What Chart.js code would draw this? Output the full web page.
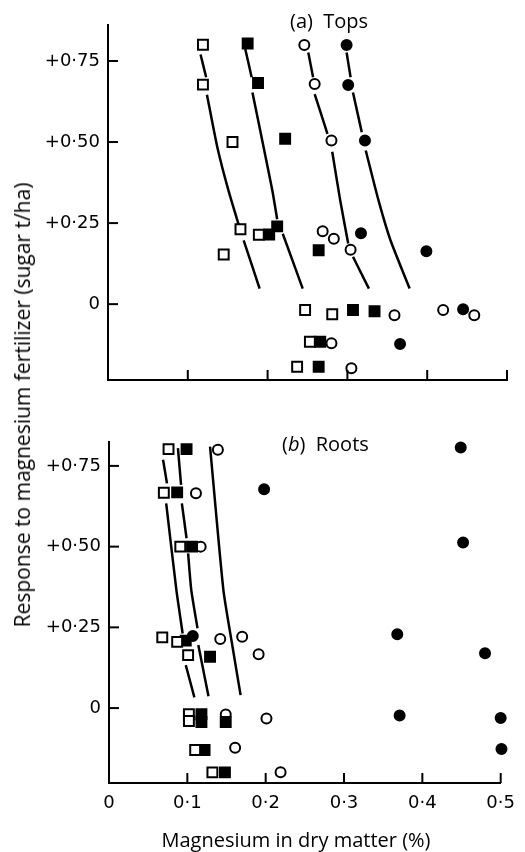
<!DOCTYPE html>
<html>
<head>
<meta charset="utf-8">
<script src="https://cdn.jsdelivr.net/npm/chart.js@4.4.0/dist/chart.umd.min.js"></script>
<style>
  body { margin: 0; background: #fff; width: 525px; height: 852px; position: relative; overflow: hidden; }
  canvas { position: absolute; left: 0; }
  .axtitle { position: absolute; font-family: "Open Sans", sans-serif; color: #000; white-space: nowrap; }
  #ytitle { left: 22px; top: 405px; font-size: 21px; transform: translate(-50%, -50%) rotate(-90deg); }
  #xtitle { left: 296px; top: 839px; font-size: 20px; transform: translate(-50%, -50%); }
</style>
</head>
<body>
<canvas id="tops" width="525" height="400" style="top:0"></canvas>
<canvas id="roots" width="525" height="452" style="top:400px"></canvas>
<div class="axtitle" id="ytitle">Response to magnesium fertilizer (sugar t/ha)</div>
<div class="axtitle" id="xtitle">Magnesium in dry matter (%)</div>
<script>
// tick values
var xTicks = [0, 0.1, 0.2, 0.3, 0.4, 0.5];
var yTicks = [0, 0.25, 0.5, 0.75];

// (a) Tops - Mg % in dry matter vs response
var topOpenSqX = [0.119, 0.119, 0.156, 0.166, 0.189, 0.145, 0.247, 0.281, 0.253, 0.237];
var topOpenSqY = [0.80, 0.677, 0.50, 0.231, 0.214, 0.153, -0.018, -0.031, -0.116, -0.193];
var topFullSqX = [0.175, 0.188, 0.222, 0.212, 0.202, 0.264, 0.307, 0.334, 0.266, 0.264];
var topFullSqY = [0.804, 0.682, 0.51, 0.24, 0.215, 0.166, -0.018, -0.022, -0.116, -0.193];
var topOpenCiX = [0.246, 0.259, 0.280, 0.269, 0.283, 0.304, 0.359, 0.420, 0.459, 0.280, 0.305];
var topOpenCiY = [0.799, 0.679, 0.505, 0.225, 0.202, 0.168, -0.034, -0.018, -0.034, -0.121, -0.198];
var topFullCiX = [0.299, 0.301, 0.322, 0.317, 0.399, 0.445, 0.366];
var topFullCiY = [0.799, 0.676, 0.505, 0.219, 0.163, -0.016, -0.123];

// fitted curves, broken where they pass the symbols
var topCurve1 = [[[0.116, 0.77], [0.123, 0.70]], [[0.124, 0.646], [0.137, 0.484], [0.151, 0.35], [0.165, 0.235]], [[0.170, 0.197], [0.190, 0.048]]];
var topCurve2 = [[[0.172, 0.787], [0.180, 0.70]], [[0.181, 0.653], [0.195, 0.484], [0.206, 0.35], [0.212, 0.262]], [[0.219, 0.217], [0.244, 0.048]]];
var topCurve3 = [[[0.251, 0.776], [0.257, 0.70]], [[0.259, 0.648], [0.275, 0.525]], [[0.281, 0.47], [0.291, 0.32], [0.301, 0.187]], [[0.307, 0.146], [0.327, 0.048]]];
var topCurve4 = [[[0.299, 0.776], [0.304, 0.70]], [[0.307, 0.653], [0.318, 0.53]], [[0.323, 0.474], [0.339, 0.32], [0.354, 0.197], [0.378, 0.048]]];

// (b) Roots
var botOpenSqX = [0.076, 0.070, 0.091, 0.068, 0.087, 0.101, 0.102, 0.102, 0.110, 0.132];
var botOpenSqY = [0.802, 0.667, 0.50, 0.219, 0.205, 0.164, -0.019, -0.040, -0.130, -0.199];
var botFullSqX = [0.099, 0.087, 0.106, 0.098, 0.129, 0.118, 0.118, 0.149, 0.122, 0.148];
var botFullSqY = [0.802, 0.668, 0.50, 0.209, 0.159, -0.019, -0.043, -0.043, -0.130, -0.199];
var botOpenCiX = [0.139, 0.111, 0.117, 0.142, 0.170, 0.191, 0.149, 0.201, 0.161, 0.219];
var botOpenCiY = [0.800, 0.665, 0.50, 0.214, 0.221, 0.167, -0.020, -0.032, -0.123, -0.199];
var botFullCiX = [0.449, 0.198, 0.452, 0.107, 0.368, 0.480, 0.371, 0.500, 0.501];
var botFullCiY = [0.807, 0.678, 0.513, 0.223, 0.229, 0.170, -0.023, -0.031, -0.127];

var botCurve1 = [[[0.069, 0.769], [0.074, 0.696]], [[0.073, 0.634], [0.086, 0.366], [0.094, 0.231]], [[0.098, 0.133], [0.109, 0.033]]];
var botCurve2 = [[[0.088, 0.805], [0.092, 0.691]], [[0.093, 0.634], [0.099, 0.526]], [[0.101, 0.479], [0.105, 0.366], [0.113, 0.247]], [[0.114, 0.195], [0.127, 0.037]]];
var botCurve3 = [[[0.129, 0.81], [0.146, 0.366], [0.157, 0.2], [0.168, 0.04]]];

function pts(xs, ys) {
  return xs.map(function (x, i) { return { x: x, y: ys[i] }; });
}

function marker(xs, ys, style, filled) {
  return {
    data: pts(xs, ys),
    pointStyle: style,
    pointRadius: style === 'rect' ? 7 : 5,
    pointBorderWidth: 2,
    pointBorderColor: '#000',
    pointBackgroundColor: filled ? '#000' : '#fff',
    showLine: false,
    clip: false
  };
}

function curveSets(curve) {
  return curve.map(function (seg) {
    return {
      data: seg.map(function (p) { return { x: p[0], y: p[1] }; }),
      showLine: true,
      pointRadius: 0,
      borderColor: '#000',
      borderWidth: 2.5,
      tension: 0.2
    };
  });
}

function fmtY(v) {
  if (v === 0) return '0';
  return '+' + v.toFixed(2).replace('.', '\u00b7');
}
function fmtX(v) {
  if (v === 0) return '0';
  return v.toFixed(1).replace('.', '\u00b7');
}

// inward tick marks + panel label
var innerTicks = {
  id: 'innerTicks',
  afterDraw: function (chart) {
    var ctx = chart.ctx, a = chart.chartArea;
    var xs = chart.scales.x, ys = chart.scales.y;
    ctx.save();
    ctx.strokeStyle = '#000';
    ctx.lineWidth = 2;
    yTicks.forEach(function (v) {
      var py = ys.getPixelForValue(v);
      ctx.beginPath(); ctx.moveTo(a.left, py); ctx.lineTo(a.left + 10, py); ctx.stroke();
    });
    xTicks.slice(1).forEach(function (v) {
      var px = xs.getPixelForValue(v);
      ctx.beginPath(); ctx.moveTo(px, a.bottom); ctx.lineTo(px, a.bottom - 10); ctx.stroke();
    });
    var lab = chart.options.plugins.panelLabel;
    ctx.fillStyle = '#000';
    ctx.textBaseline = 'middle';
    ctx.textAlign = 'left';
    var x = lab.x;
    ctx.font = '20px "Open Sans"';
    ctx.fillText('(', x, lab.y); x += ctx.measureText('(').width;
    ctx.font = (lab.italic ? 'italic ' : '') + '20px "Open Sans"';
    ctx.fillText(lab.letter, x, lab.y); x += ctx.measureText(lab.letter).width;
    ctx.font = '20px "Open Sans"';
    ctx.fillText(')  ' + lab.name, x, lab.y);
    ctx.restore();
  }
};

function makeChart(id, sets, yMin, yMax, padRight, padTop, yWidth, xHeight, showX, label) {
  return new Chart(document.getElementById(id).getContext('2d'), {
    type: 'scatter',
    data: { datasets: sets },
    options: {
      responsive: false,
      animation: false,
      devicePixelRatio: 1,
      layout: { padding: { left: 0, right: padRight, top: padTop, bottom: 0 } },
      plugins: { legend: { display: false }, tooltip: { enabled: false }, panelLabel: label },
      scales: {
        x: {
          type: 'linear', min: 0, max: 0.5,
          afterBuildTicks: function (s) { s.ticks = xTicks.map(function (v) { return { value: v }; }); },
          afterFit: function (s) { s.height = xHeight; },
          grid: { display: false, drawTicks: false },
          border: { display: true, color: '#000', width: 2 },
          ticks: {
            display: showX, padding: 10, color: '#000',
            font: { family: 'DejaVu Sans', size: 18 },
            maxRotation: 0, autoSkip: false,
            callback: function (v) { return fmtX(v); }
          }
        },
        y: {
          type: 'linear', min: yMin, max: yMax,
          afterBuildTicks: function (s) { s.ticks = yTicks.map(function (v) { return { value: v }; }); },
          afterFit: function (s) { s.width = yWidth; },
          grid: { display: false, drawTicks: false },
          border: { display: true, color: '#000', width: 2 },
          ticks: {
            padding: 8, color: '#000',
            font: { family: 'DejaVu Sans', size: 18 },
            callback: function (v) { return fmtY(v); }
          }
        }
      }
    },
    plugins: [innerTicks]
  });
}

var topSets = [
  marker(topOpenSqX, topOpenSqY, 'rect', false),
  marker(topFullSqX, topFullSqY, 'rect', true),
  marker(topOpenCiX, topOpenCiY, 'circle', false),
  marker(topFullCiX, topFullCiY, 'circle', true)
].concat(curveSets(topCurve1), curveSets(topCurve2), curveSets(topCurve3), curveSets(topCurve4));

var botSets = [
  marker(botOpenSqX, botOpenSqY, 'rect', false),
  marker(botFullSqX, botFullSqY, 'rect', true),
  marker(botOpenCiX, botOpenCiY, 'circle', false),
  marker(botFullCiX, botFullCiY, 'circle', true)
].concat(curveSets(botCurve1), curveSets(botCurve2), curveSets(botCurve3));

makeChart('tops', topSets, -0.234, 0.861, 18, 25, 108, 20, false,
  { x: 290, y: 22, letter: 'a', italic: false, name: 'Tops' });
makeChart('roots', botSets, -0.232, 0.824, 17, 42, 109, 69, true,
  { x: 282, y: 45, letter: 'b', italic: true, name: 'Roots' });
</script>
</body>
</html>
